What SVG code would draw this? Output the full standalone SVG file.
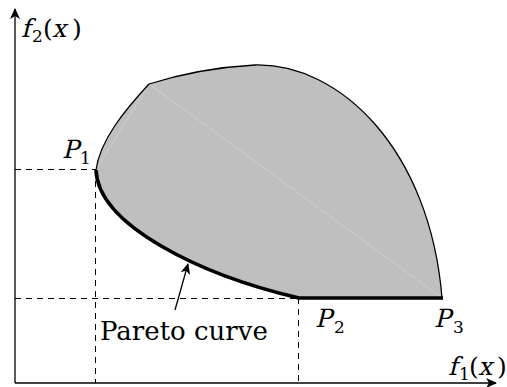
<svg xmlns="http://www.w3.org/2000/svg" width="507" height="387" viewBox="0 0 507 387">
<style>
.ax{stroke:#000;stroke-width:1.3;fill:none}
.dash{stroke:#000;stroke-width:1;fill:none;stroke-dasharray:6,5}
.outline{stroke:#000;stroke-width:1.3;fill:none}
.thick{stroke:#000;stroke-width:3.6;fill:none}
.s{font-size:17px}
</style>
<defs>
<marker id="arr" markerWidth="12" markerHeight="10" refX="10" refY="5" orient="auto" markerUnits="userSpaceOnUse">
<path d="M0,0 L11,5 L0,10 L3,5 Z" fill="#000"/>
</marker>
</defs>
<g id="region">
<path d="M96,170 C100,140 125,110 149,84 Q200,68 255,65 C340,63 430,150 442,298 L299,298 C200,275 98,225 96,170 Z" fill="#bfbfbf" stroke="none"/>
<path d="M149,84 L96,170 M149,84 L442,298" stroke="#d9d9d9" stroke-width="0.6" fill="none"/>
<path class="outline" d="M96,170 C100,140 125,110 149,84 Q200,68 255,65 C340,63 430,150 442,298"/>
</g>
<g id="pareto">
<path class="thick" d="M96,170 C98,225 200,275 299,298 L443,298"/>
</g>
<g id="connectors">
<line class="dash" x1="15" y1="169.5" x2="96" y2="169.5"/>
<line class="dash" x1="95.5" y1="170" x2="95.5" y2="383"/>
<line class="dash" x1="15" y1="298.5" x2="299" y2="298.5"/>
<line class="dash" x1="298.5" y1="298" x2="298.5" y2="383"/>
<line class="ax" x1="15" y1="383" x2="15" y2="9" marker-end="url(#arr)"/>
<line class="ax" x1="15" y1="383" x2="496" y2="383" marker-end="url(#arr)"/>
<line class="ax" x1="175" y1="310" x2="188" y2="264" marker-end="url(#arr)"/>
</g>
<g id="labels" font-family="DejaVu Serif, serif" font-size="25" fill="#000">
<g id="label-f2">
<text transform="translate(21,37) skewX(-14)">f</text>
<text class="s" x="32" y="42">2</text>
<text x="43" y="37">(</text>
<text transform="translate(52,37) skewX(-14)">x</text>
<text x="72" y="37">)</text>
</g>
<g id="label-f1">
<text transform="translate(448,375) skewX(-14)">f</text>
<text class="s" x="459" y="380">1</text>
<text x="469" y="375">(</text>
<text transform="translate(478,375) skewX(-14)">x</text>
<text x="497" y="375">)</text>
</g>
<g id="label-P1">
<text transform="translate(62,158) skewX(-14)">P</text>
<text class="s" x="80" y="164">1</text>
</g>
<g id="label-P2">
<text transform="translate(315,327) skewX(-14)">P</text>
<text class="s" x="334" y="333">2</text>
</g>
<g id="label-P3">
<text transform="translate(434,327) skewX(-14)">P</text>
<text class="s" x="453" y="333">3</text>
</g>
<text id="label-pareto" x="100" y="340" font-size="26">Pareto curve</text>
</g>
</svg>
